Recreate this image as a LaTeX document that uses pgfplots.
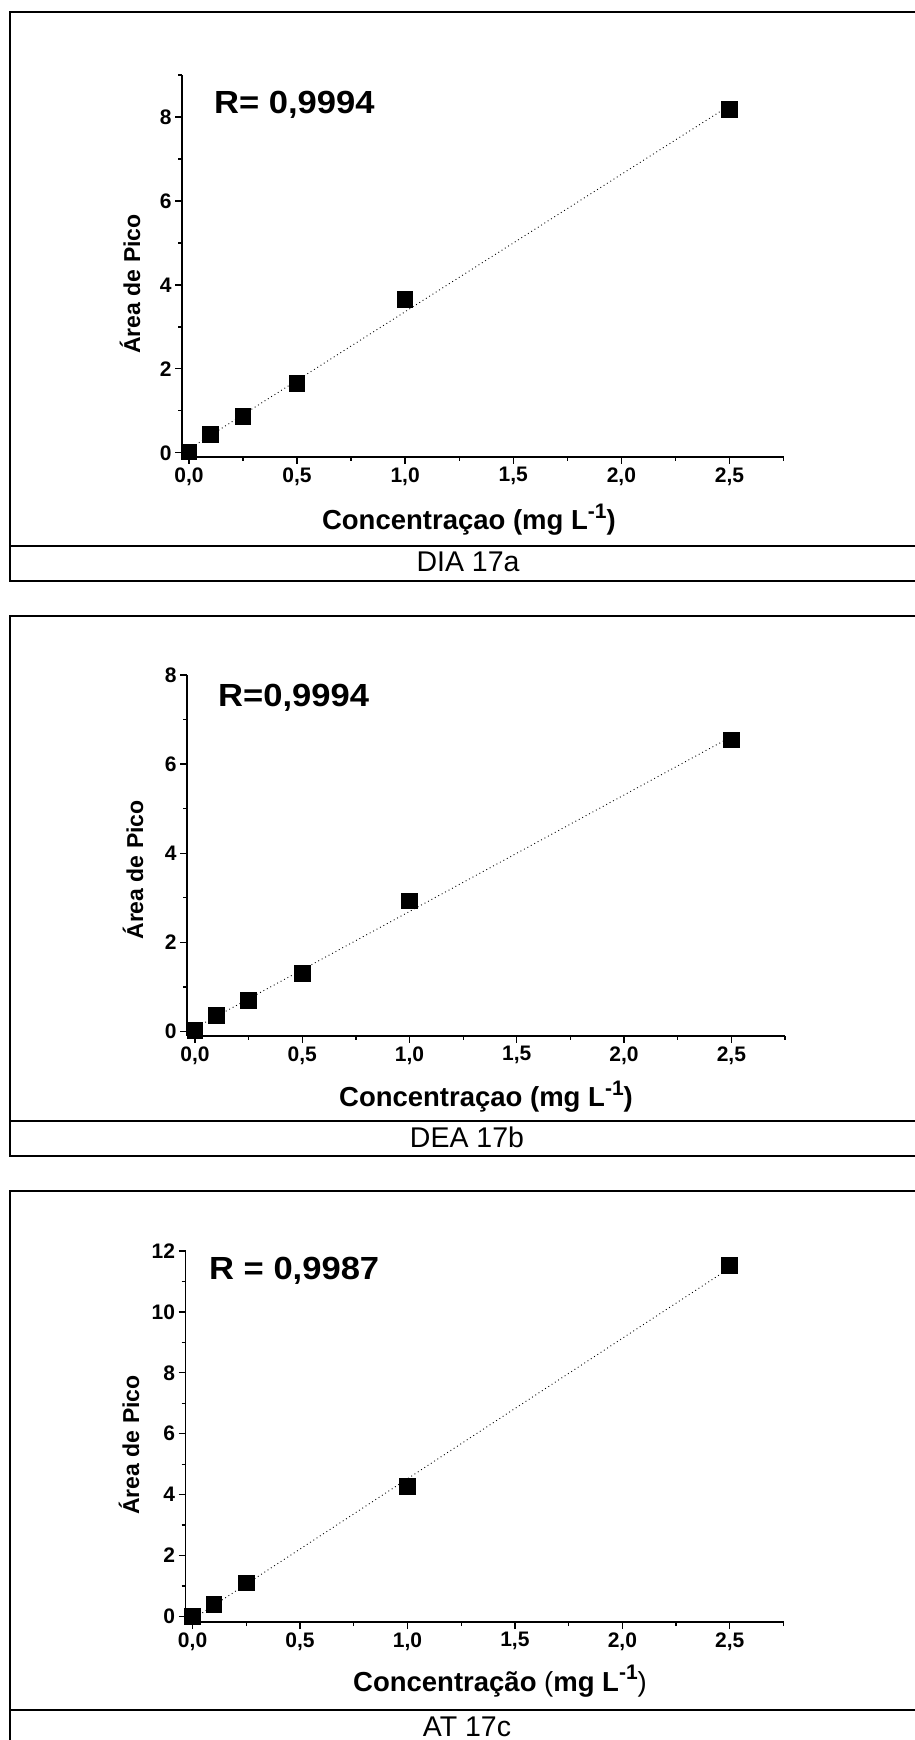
\documentclass[border=0pt]{standalone}
\usepackage{fontspec}
\setmainfont{Liberation Sans}
\usepackage{pgfplots}
\pgfplotsset{compat=1.18}

\pgfplotsset{
  calib/.style={
    scale only axis,
    anchor=south west,
    axis x line*=bottom,
    axis y line*=left,
    axis line style={line width=1.5pt},
    tick align=outside,
    major tick length=7pt,
    minor tick length=4pt,
    every tick/.style={line width=1.3pt, black},
    xtick={0,0.5,1,1.5,2,2.5},
    minor xtick={0.25,0.75,1.25,1.75,2.25,2.75},
    ticklabel style={font=\fontsize{21}{21}\selectfont\bfseries},
    /pgf/number format/assume math mode=true,
    xticklabel style={/pgf/number format/.cd, fixed, fixed zerofill, precision=1, use comma},
    yticklabel style={/pgf/number format/.cd, fixed, precision=0},
    xlabel style={font=\fontsize{27.5}{27.5}\selectfont\bfseries, anchor=base},
    ylabel style={font=\fontsize{23}{23}\selectfont\bfseries, anchor=base},
    clip=false,
  },
  fitline/.style={black, line width=0.9pt, dash pattern=on 0.9pt off 3pt},
  pts/.style={only marks, mark=square*, mark size=7.8pt, mark options={fill=black, draw=black, line width=0pt}},
}

\newcommand{\supx}[1]{\raisebox{0.42em}{\fontsize{21}{21}\selectfont #1}}
\newcommand{\rlab}[1]{\scalebox{1.08}[1]{\fontsize{32}{32}\selectfont\bfseries #1}}

\begin{document}
\begin{tikzpicture}
\useasboundingbox (0pt,0pt) rectangle (915pt,1740pt);

% ---------------- Panel a ----------------
\draw[line width=2.6pt] (10pt,1159pt) rectangle (926pt,1728pt);
\draw[line width=2.6pt] (10pt,1194pt) -- (926pt,1194pt);
\begin{axis}[calib,
  at={(182pt,1283pt)}, width=601.5pt, height=382pt,
  xmin=-0.032, xmax=2.75, ymin=-0.1, ymax=9,
  ytick={0,2,4,6,8}, minor ytick={1,3,5,7,9},
  xlabel={Concentraçao (mg L\supx{-1})},
  xlabel style={at={(axis description cs:0.477,0)}, yshift=-73pt},
  ylabel={Área de Pico},
  ylabel style={at={([xshift=-42pt]axis description cs:0,0.453)}},
]
\addplot[fitline] coordinates {(0,0.088) (2.5,8.27)};
\addplot[pts] coordinates {(0,0.02) (0.1,0.43) (0.25,0.86) (0.5,1.65) (1,3.65) (2.5,8.18)};
\end{axis}
\node[anchor=base west, inner sep=0pt] at (214pt,1626pt) {\rlab{R= 0,9994}};
\node[anchor=base, inner sep=0pt, font=\fontsize{28.5}{28.5}\selectfont] at (468pt,1168pt) {DIA 17a};

% ---------------- Panel b ----------------
\draw[line width=2.6pt] (10pt,584pt) rectangle (926pt,1124pt);
\draw[line width=2.6pt] (10pt,619pt) -- (926pt,619pt);
\begin{axis}[calib,
  at={(187pt,704pt)}, width=598pt, height=361pt,
  xmin=-0.037, xmax=2.75, ymin=-0.1, ymax=8,
  ytick={0,2,4,6,8}, minor ytick={1,3,5,7},
  xlabel={Concentraçao (mg L\supx{-1})},
  xlabel style={at={(axis description cs:0.5,0)}, yshift=-71pt},
  ylabel={Área de Pico},
  ylabel style={at={([xshift=-44pt]axis description cs:0,0.46)}},
]
\addplot[fitline] coordinates {(0,0.08) (2.5,6.615)};
\addplot[pts] coordinates {(0,0.02) (0.1,0.36) (0.25,0.70) (0.5,1.30) (1,2.93) (2.5,6.54)};
\end{axis}
\node[anchor=base west, inner sep=0pt] at (218pt,1033pt) {\rlab{R=0,9994}};
\node[anchor=base, inner sep=0pt, font=\fontsize{28.5}{28.5}\selectfont] at (467pt,592pt) {DEA 17b};

% ---------------- Panel c ----------------
\draw[line width=2.6pt] (10pt,-5pt) rectangle (926pt,549pt);
\draw[line width=2.6pt] (10pt,30pt) -- (926pt,30pt);
\begin{axis}[calib,
  at={(185.5pt,118pt)}, width=598pt, height=371pt,
  xmin=-0.033, xmax=2.75, ymin=-0.18, ymax=12,
  ytick={0,2,4,6,8,10,12}, minor ytick={1,3,5,7,9,11},
  xlabel={Concentração {\mdseries(}mg L\supx{-1}{\mdseries)}},
  xlabel style={at={(axis description cs:0.526,0)}, yshift=-69pt},
  ylabel={Área de Pico},
  ylabel style={at={([xshift=-46.5pt]axis description cs:0,0.477)}},
]
\addplot[fitline] coordinates {(0,-0.09) (2.5,11.44)};
\addplot[pts] coordinates {(0,0.0) (0.1,0.40) (0.25,1.10) (1,4.27) (2.5,11.53)};
\end{axis}
\node[anchor=base west, inner sep=0pt] at (209pt,460pt) {\rlab{R = 0,9987}};
\node[anchor=base, inner sep=0pt, font=\fontsize{28.5}{28.5}\selectfont] at (467pt,4pt) {AT 17c};
\end{tikzpicture}
\end{document}
